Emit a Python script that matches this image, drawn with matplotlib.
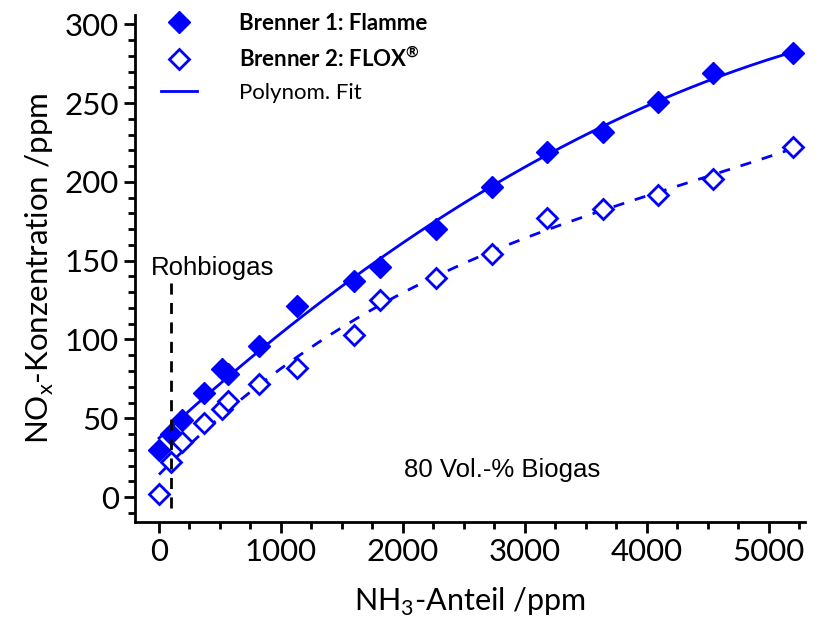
import numpy as np
import matplotlib.pyplot as plt
from matplotlib.ticker import MultipleLocator

# NH3 share (ppm) and NOx concentration (ppm)
nh3 = [0, 100, 190, 370, 515, 565, 820, 1130, 1600, 1810, 2270, 2730, 3180, 3640, 4090, 4540, 5200]
nox_flamme = [30, 40, 49, 66, 81, 78, 96, 121, 137, 146, 170, 197, 219, 232, 251, 269, 282]
nox_flox = [2, 22, 35, 47, 56, 61, 72, 82, 103, 125, 139, 154, 177, 183, 192, 202, 222]

rohbiogas_x = 100

plt.rcParams['font.family'] = ['Lato', 'DejaVu Sans']
plt.rcParams['mathtext.fontset'] = 'custom'
plt.rcParams['mathtext.rm'] = 'Lato'
plt.rcParams['mathtext.bf'] = 'Lato:bold'

fig = plt.figure(figsize=(8.31, 6.21), dpi=100)
ax = fig.add_axes([0.162, 0.159, 0.807, 0.817])

blue = '#0000ff'

# polynomial fits through the measured points
xf = np.linspace(0, 5200, 200)
fit1 = np.polyval(np.polyfit(nh3, nox_flamme, 2), xf)
fit2 = np.polyval(np.polyfit(nh3, nox_flox, 3), xf)

ax.plot(xf, fit1, color=blue, lw=2)
ax.plot(xf, fit2, color=blue, lw=2, ls=(0, (4, 4)))

ax.plot(nh3, nox_flamme, 'D', color=blue, ms=11, ls='none', label='Brenner 1: Flamme')
ax.plot(nh3, nox_flox, 'D', mfc='white', mec=blue, mew=2, ms=10, ls='none',
        label=r'Brenner 2: FLOX$^\mathbf{®}$')
ax.plot([], [], color=blue, lw=2, label='Polynom. Fit')

ax.plot([rohbiogas_x, rohbiogas_x], [-7, 140], color='black', lw=2, ls=(0, (4, 3)))
ax.text(-70, 138, 'Rohbiogas', family='Liberation Sans', fontsize=18.5, va='bottom', ha='left')
ax.text(2810, 17, '80 Vol.-% Biogas', family='Liberation Sans', fontsize=18.5, ha='center', va='center')

ax.set_xlim(-200, 5300)
ax.set_ylim(-16, 306)
ax.spines['top'].set_visible(False)
ax.spines['right'].set_visible(False)
for s in ('left', 'bottom'):
    ax.spines[s].set_linewidth(2)

ax.xaxis.set_major_locator(MultipleLocator(1000))
ax.xaxis.set_minor_locator(MultipleLocator(250))
ax.yaxis.set_major_locator(MultipleLocator(50))
ax.yaxis.set_minor_locator(MultipleLocator(10))
ax.tick_params(which='major', direction='out', length=8, width=2, labelsize=22.5)
ax.tick_params(which='minor', direction='out', length=5, width=2)

ax.set_xlabel(r'NH$_\mathrm{3}$-Anteil /ppm', fontsize=22, labelpad=14)
ax.set_ylabel(r'NO$_\mathrm{x}$-Konzentration /ppm', fontsize=22.5, labelpad=6)

leg = ax.legend(loc='upper left', frameon=False, fontsize=16, handlelength=1.6,
                handletextpad=1.9, borderaxespad=0.2, labelspacing=0.55,
                bbox_to_anchor=(0.02, 1.03))
for t in leg.get_texts()[:2]:
    t.set_fontweight('bold')

fig.savefig('out.png', dpi=100)
